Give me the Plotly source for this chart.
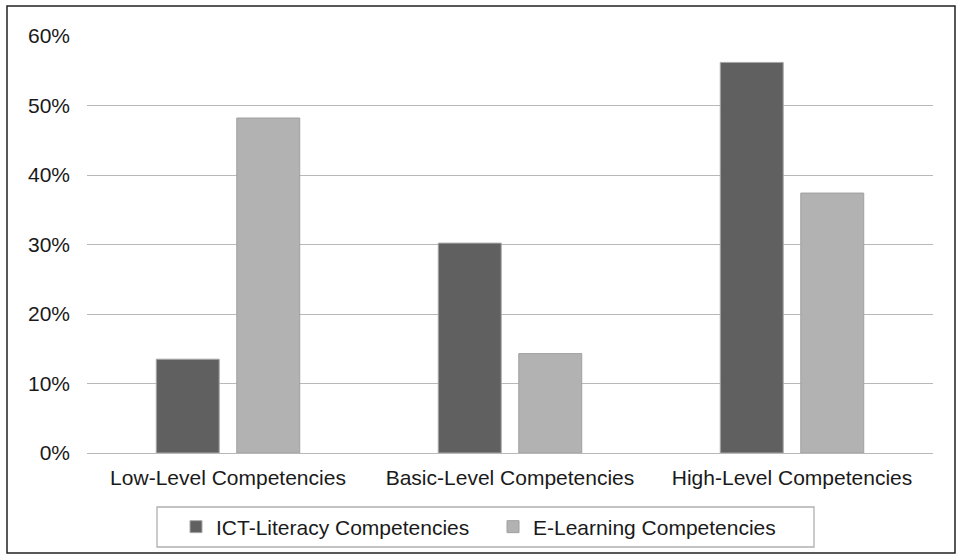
import plotly.graph_objects as go

categories = ["Low-Level Competencies", "Basic-Level Competencies", "High-Level Competencies"]
ict_values = [13.5, 30.2, 56.2]
elearning_values = [48.2, 14.3, 37.4]
series_names = ["ICT-Literacy Competencies", "E-Learning Competencies"]
y_ticks = [0, 10, 20, 30, 40, 50, 60]
y_tick_labels = [f"{v}%" for v in y_ticks]

W, H = 957, 560
L, R, T, B = 87, 24, 36, 107
pw, ph = W - L - R, H - T - B

def px_x(x):
    return (x - L) / pw

def px_y(y):
    return (H - B - y) / ph

fig = go.Figure()
fig.add_trace(go.Bar(x=categories, y=ict_values, name=series_names[0],
                     marker=dict(color="#606060", line=dict(color="#a8a8a8", width=1))))
fig.add_trace(go.Bar(x=categories, y=elearning_values, name=series_names[1],
                     marker=dict(color="#b2b2b2", line=dict(color="#a0a0a0", width=1))))

font = dict(family="Liberation Sans, Arial, sans-serif", size=21, color="#1a1a1a")

fig.update_layout(
    width=W, height=H,
    margin=dict(l=L, r=R, t=T, b=B),
    paper_bgcolor="white", plot_bgcolor="white",
    font=font,
    barmode="group", bargap=0.429, bargroupgap=0.218,
    showlegend=True,
    legend=dict(orientation="h", x=px_x(176), xanchor="left", y=px_y(527), yanchor="middle",
                bgcolor="rgba(0,0,0,0)", borderwidth=0, font=font,
                itemwidth=30, entrywidth=272, entrywidthmode="pixels"),
    xaxis=dict(showgrid=False, showline=False, ticks="", ticklabelstandoff=10,
               tickfont=font, fixedrange=True),
    yaxis=dict(range=[0, 60], tickmode="array", tickvals=y_ticks, ticktext=y_tick_labels,
               showgrid=True, gridcolor="#b8b8b8", gridwidth=1.3, zeroline=True,
               zerolinecolor="#b8b8b8", zerolinewidth=1.3, showline=False, ticks="",
               ticklabelstandoff=16, tickfont=font, fixedrange=True),
    shapes=[
        dict(type="rect", xref="paper", yref="paper",
             x0=px_x(7), x1=px_x(955), y0=px_y(553), y1=px_y(6),
             line=dict(color="#222222", width=1.5), fillcolor="rgba(0,0,0,0)", layer="below"),
        dict(type="rect", xref="paper", yref="paper",
             x0=px_x(157), x1=px_x(814), y0=px_y(547), y1=px_y(507),
             line=dict(color="#b0b0b0", width=1.3), fillcolor="rgba(0,0,0,0)", layer="below"),
    ],
)

fig.write_html("out.html", config={"displayModeBar": False},
               post_script="document.body.style.margin='0';")
